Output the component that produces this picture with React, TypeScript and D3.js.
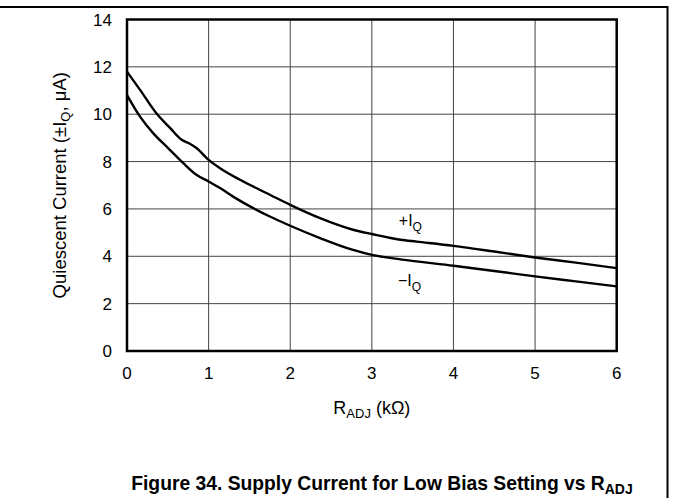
import React from "react";
import * as d3 from "d3";

const xTicks = [0, 1, 2, 3, 4, 5, 6];
const yTicks = [0, 2, 4, 6, 8, 10, 12, 14];

const plusX = [0, 0.16, 0.36, 0.53, 0.67, 0.77, 0.85, 1.0, 1.14, 1.385, 1.75, 2.0, 2.365, 2.77, 3.0, 3.35, 3.55, 4.0, 4.5, 5.0, 5.5, 6.0];
const plusY = [11.8, 11.03, 10.04, 9.41, 8.92, 8.75, 8.57, 8.07, 7.72, 7.23, 6.6, 6.17, 5.61, 5.12, 4.94, 4.7, 4.62, 4.44, 4.2, 3.95, 3.73, 3.5];

const minusX = [0, 0.16, 0.32, 0.5, 0.69, 0.85, 1.0, 1.14, 1.3, 1.75, 2.0, 2.365, 2.77, 3.0, 3.35, 4.0, 4.5, 5.0, 5.5, 6.0];
const minusY = [10.81, 9.9, 9.2, 8.58, 7.93, 7.44, 7.16, 6.88, 6.52, 5.68, 5.29, 4.77, 4.27, 4.06, 3.87, 3.6, 3.38, 3.15, 2.94, 2.73];

const W = 673;
const H = 498;
const FONT = "Liberation Sans, Arial, sans-serif";

export default function App() {
  const left = 127, right = 616.7, top = 19.5, bottom = 351;
  const x = d3.scaleLinear().domain([0, 6]).range([left, right]);
  const y = d3.scaleLinear().domain([0, 14]).range([bottom, top]);
  const line = d3
    .line<[number, number]>()
    .x((d) => x(d[0]))
    .y((d) => y(d[1]))
    .curve(d3.curveMonotoneX);
  const plusPts = plusX.map((v, i) => [v, plusY[i]] as [number, number]);
  const minusPts = minusX.map((v, i) => [v, minusY[i]] as [number, number]);

  return (
    <svg
      width={W}
      height={H}
      style={{ position: "absolute", left: 0, top: 0, background: "#fff" }}
      fontFamily={FONT}
    >
      <rect x={0} y={0} width={W} height={H} fill="#fff" />
      {/* page frame */}
      <line x1={0} x2={668} y1={7} y2={7} stroke="#000" strokeWidth={2} />
      <line x1={667.5} x2={667.5} y1={6} y2={H} stroke="#000" strokeWidth={2} />

      {/* grid */}
      {xTicks.slice(1, -1).map((t) => (
        <line key={"gx" + t} x1={x(t)} x2={x(t)} y1={top} y2={bottom} stroke="#444" strokeWidth={1} />
      ))}
      {yTicks.slice(1, -1).map((t) => (
        <line key={"gy" + t} x1={left} x2={right} y1={y(t)} y2={y(t)} stroke="#444" strokeWidth={1} />
      ))}

      {/* curves */}
      <path d={line(plusPts) || ""} fill="none" stroke="#000" strokeWidth={2.4} />
      <path d={line(minusPts) || ""} fill="none" stroke="#000" strokeWidth={2.4} />

      {/* plot frame */}
      <rect x={left} y={top} width={right - left} height={bottom - top} fill="none" stroke="#000" strokeWidth={2.5} />

      {/* tick labels */}
      {yTicks.map((t) => (
        <text key={"ty" + t} x={112} y={y(t)} dy="0.36em" textAnchor="end" fontSize={17}>
          {t}
        </text>
      ))}
      {xTicks.map((t) => (
        <text key={"tx" + t} x={x(t)} y={379} textAnchor="middle" fontSize={17}>
          {t}
        </text>
      ))}

      {/* series labels */}
      <text x={x(3.33)} y={y(5.29)} fontSize={16}>
        +I<tspan fontSize={12} dy={5}>Q</tspan>
      </text>
      <text x={x(3.32)} y={y(2.76)} fontSize={16}>
        −I<tspan fontSize={12} dy={5}>Q</tspan>
      </text>

      {/* axis titles */}
      <text x={(left + right) / 2} y={414} textAnchor="middle" fontSize={18}>
        R<tspan fontSize={13} dy={4}>ADJ</tspan>
        <tspan dy={-4}> (kΩ)</tspan>
      </text>
      <text
        transform={`translate(66, ${(top + bottom) / 2}) rotate(-90)`}
        textAnchor="middle"
        fontSize={18.5}
      >
        Quiescent Current (±I<tspan fontSize={13} dy={4}>Q</tspan>
        <tspan dy={-4}>, μA)</tspan>
      </text>

      {/* caption */}
      <text x={382} y={490} textAnchor="middle" fontSize={19.3} fontWeight="bold">
        Figure 34. Supply Current for Low Bias Setting vs R<tspan fontSize={14} dy={4}>ADJ</tspan>
      </text>
    </svg>
  );
}
